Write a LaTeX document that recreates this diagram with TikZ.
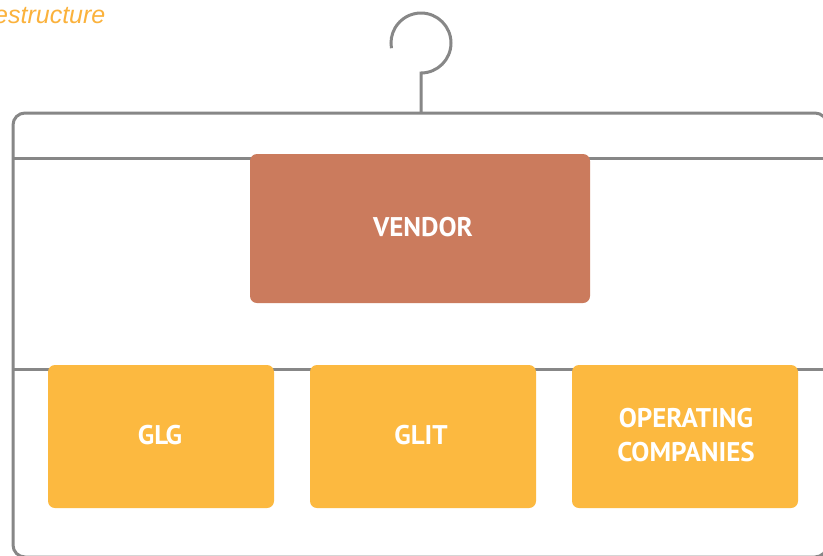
\documentclass[tikz,border=0pt]{standalone}
\usepackage{fontspec}
\newfontfamily\ptsans{PT Sans}
\newfontfamily\libsans{Liberation Sans}
\definecolor{framegray}{HTML}{878787}
\definecolor{vendorcol}{HTML}{CB7B5D}
\definecolor{boxyellow}{HTML}{FCB940}
\definecolor{titlecol}{HTML}{FBB23C}
\tikzset{
  frameline/.style={draw=framegray, line width=3pt},
  vendorbox/.style={fill=vendorcol, rounded corners=7pt, draw=none},
  unitbox/.style={fill=boxyellow, rounded corners=7pt, draw=none},
  boxlabel/.style={text=white, font=\ptsans\bfseries\fontsize{27}{34}\selectfont, align=center},
}
\begin{document}
\begin{tikzpicture}[x=1pt,y=-1pt]
\useasboundingbox (0,0) rectangle (823,555);
\clip (0,0) rectangle (823,555);
\fill[white] (0,0) rectangle (823,555);
% title
\node[anchor=base west, inner sep=0pt, text=titlecol, font=\libsans\itshape\fontsize{25}{29}\selectfont] (title) at (-6,23) {estructure};
% hanger
\coordinate (stemtop) at (421,73);
\coordinate (stembot) at (421,113);
\draw[frameline] (stembot) -- (stemtop) arc[start angle=90, end angle=-190, radius=30];
\draw[frameline, rounded corners=12pt] (13,113) rectangle (827,557);
\draw[frameline] (13,158) -- (827,158);
\draw[frameline] (13,369) -- (827,369);
% boxes
\fill[vendorbox] (250,154) rectangle (590,303);
\node[boxlabel] (vendor) at (423,227) {VENDOR};
\fill[unitbox] (48,365) rectangle (274,508);
\node[boxlabel] (glg) at (160,435) {GLG};
\fill[unitbox] (310,365) rectangle (536,508);
\node[boxlabel] (glit) at (421,435) {GLIT};
\fill[unitbox] (572,365) rectangle (798,508);
\node[boxlabel] (opco) at (686,435) {OPERATING\\COMPANIES};
\end{tikzpicture}
\end{document}
